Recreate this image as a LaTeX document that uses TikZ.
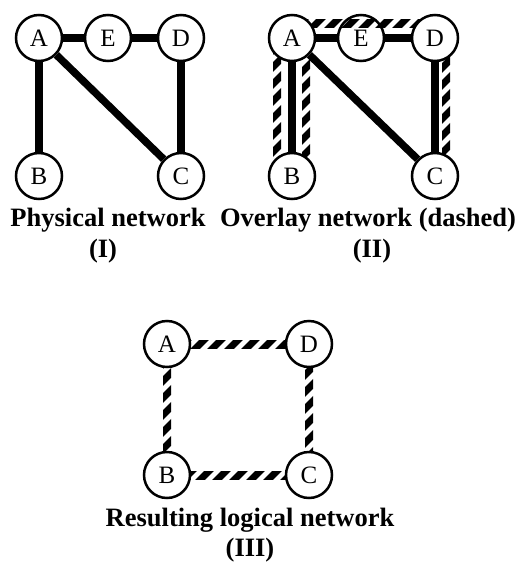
\documentclass[tikz,border=0pt]{standalone}
\usepackage{fontspec}
\setmainfont{Liberation Serif}

% hatched band between two corners: clip, then fill with diagonal stripes
\newcommand\hatchband[2]{%
  \begin{scope}
    \clip #1 rectangle #2;
    \foreach \c in {-600,-583,...,540}
      \draw[hatch] (\c,600) -- ++(600,-600);
  \end{scope}}

\begin{document}
\begin{tikzpicture}[x=1pt,y=-1pt,
  peer/.style={circle, draw, line width=2.5pt, fill=white, minimum size=46pt,
    inner sep=0pt, font=\fontsize{25}{25}\selectfont},
  link/.style={line width=7.5pt},
  hatch/.style={line width=7pt},
  caption/.style={anchor=base, inner sep=0pt,
    font=\fontsize{26.5}{30}\selectfont\bfseries}]
\useasboundingbox (0,0) rectangle (522,579);

% ---------- (I) physical network ----------
\node[peer] (A1) at (39,38)  {A};
\node[peer] (E1) at (108,38) {E};
\node[peer] (D1) at (181,38) {D};
\node[peer] (B1) at (39,176) {B};
\node[peer] (C1) at (181,176) {C};
\draw[link] (A1) -- (E1);
\draw[link] (E1) -- (D1);
\draw[link] (A1) -- (B1);
\draw[link] (A1) -- (C1);
\draw[link] (D1) -- (C1);
\node[caption] (capI)  at (108,226)   {Physical network};
\node[caption] (numI)  at (103,257.5) {(I)};

% ---------- (II) overlay on top of the physical links ----------
\coordinate (pA2) at (292,38);
\coordinate (pD2) at (435,38);
\coordinate (pB2) at (292,176);
\coordinate (pC2) at (435,176);
\node[peer] (E2) at (361,38) {E};
\hatchband{([yshift=10.5pt]pA2)}{([yshift=18.5pt]pD2)}
\hatchband{([xshift=-19pt]pA2)}{([xshift=-11pt]pB2)}
\hatchband{([xshift=10pt]pA2)}{([xshift=18pt]pB2)}
\hatchband{([xshift=7pt]pD2)}{([xshift=15pt]pC2)}
\node[peer] (A2) at (pA2) {A};
\node[peer] (D2) at (pD2) {D};
\node[peer] (B2) at (pB2) {B};
\node[peer] (C2) at (pC2) {C};
\draw[link] (A2) -- (E2);
\draw[link] (E2) -- (D2);
\draw[link] (A2) -- (B2);
\draw[link] (A2) -- (C2);
\draw[link] (D2) -- (C2);
\node[caption] (capII) at (368,226)   {Overlay network (dashed)};
\node[caption] (numII) at (372,257.5) {(II)};

% ---------- (III) resulting logical network ----------
\coordinate (pA3) at (167,344);
\coordinate (pD3) at (309,344);
\coordinate (pB3) at (167,475);
\coordinate (pC3) at (309,475);
\hatchband{([yshift=-4pt]pA3)}{([yshift=4pt]pD3)}
\hatchband{([yshift=-4pt]pB3)}{([yshift=4pt]pC3)}
\hatchband{([xshift=-4pt]pA3)}{([xshift=4pt]pB3)}
\hatchband{([xshift=-4pt]pD3)}{([xshift=4pt]pC3)}
\node[peer] (A3) at (pA3) {A};
\node[peer] (D3) at (pD3) {D};
\node[peer] (B3) at (pB3) {B};
\node[peer] (C3) at (pC3) {C};
\node[caption] (capIII) at (250,526)   {Resulting logical network};
\node[caption] (numIII) at (250,556.5) {(III)};
\end{tikzpicture}
\end{document}
